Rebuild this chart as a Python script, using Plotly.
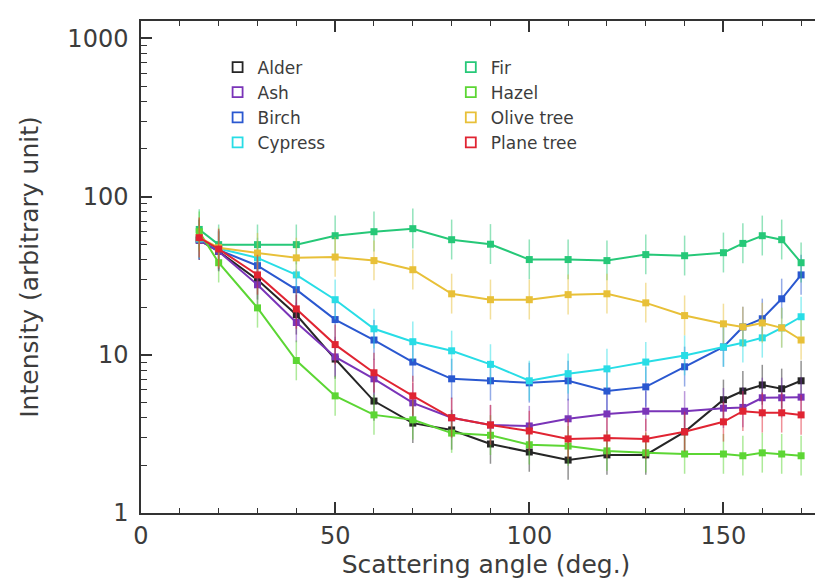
import plotly.graph_objects as go

angles = [15, 20, 30, 40, 50, 60, 70, 80, 90, 100, 110, 120, 130, 140, 150, 155, 160, 165, 170]

alder = [53, 45, 29.8, 17.9, 9.4, 5.1, 3.7, 3.35, 2.73, 2.43, 2.16, 2.33, 2.33, 3.26, 5.2, 5.9, 6.45, 6.1, 6.85]
ash = [53, 45, 27.7, 16.0, 9.7, 7.05, 4.97, 4.0, 3.6, 3.55, 3.94, 4.23, 4.4, 4.4, 4.6, 4.65, 5.35, 5.35, 5.4]
birch = [54, 46, 36.6, 25.8, 16.7, 12.4, 9.0, 7.05, 6.85, 6.65, 6.85, 5.9, 6.27, 8.4, 11.2, 15.0, 16.9, 22.6, 32.0]
cypress = [54, 47, 41, 32, 22.3, 14.6, 12.1, 10.6, 8.7, 6.85, 7.6, 8.15, 9.0, 9.9, 11.2, 11.9, 12.8, 14.8, 17.4]
fir = [62, 49.7, 49.7, 49.7, 56.6, 60, 62.7, 53.4, 50, 40, 40, 39.4, 43, 42.3, 44.2, 50.6, 56.6, 53.4, 38.2]
hazel = [60, 38.2, 19.8, 9.2, 5.5, 4.17, 3.88, 3.2, 3.1, 2.7, 2.65, 2.47, 2.4, 2.36, 2.36, 2.3, 2.4, 2.36, 2.3]
olive = [55, 47.5, 44, 41, 41.5, 39.4, 34.5, 24.3, 22.3, 22.3, 24, 24.3, 21.3, 17.7, 15.7, 15.0, 15.9, 14.8, 12.4]
plane = [55, 46.6, 32, 19.5, 11.6, 7.7, 5.5, 4.0, 3.6, 3.3, 2.94, 2.98, 2.94, 3.26, 3.77, 4.4, 4.3, 4.3, 4.17]

names = ["Alder", "Ash", "Birch", "Cypress", "Fir", "Hazel", "Olive tree", "Plane tree"]
series = [alder, ash, birch, cypress, fir, hazel, olive, plane]
colors = ["#262626", "#7a34b8", "#2a58d0", "#28dde6", "#26c878", "#5cd634", "#e8c038", "#e02432"]
err_up = 0.34
err_dn = 0.25

x_ticks = [0, 50, 100, 150]
y_ticks = [1, 10, 100, 1000]


def rgba(h, a):
    h = h.lstrip("#")
    return "rgba(%d,%d,%d,%s)" % (int(h[0:2], 16), int(h[2:4], 16), int(h[4:6], 16), a)


fig = go.Figure()
for name, vals, c in zip(names, series, colors):
    fig.add_trace(go.Scatter(
        x=angles, y=vals, mode="lines+markers", showlegend=False,
        line=dict(color=c, width=2),
        marker=dict(symbol="square", size=7, color=c),
        error_y=dict(type="data", array=[v * err_up for v in vals],
                     arrayminus=[v * err_dn for v in vals],
                     color=rgba(c, 0.5), thickness=1.5, width=0),
    ))

for i, (name, c) in enumerate(zip(names, colors)):
    fig.add_trace(go.Scatter(
        x=[None], y=[None], mode="markers", name=name,
        marker=dict(symbol="square-open", size=10, color=c, line=dict(width=1.8, color=c)),
        legend="legend" if i < 4 else "legend2",
    ))

FAM = "DejaVu Sans, sans-serif"
TXT = "#3c3c3c"
tickfont = dict(family=FAM, size=24, color=TXT)
leg_common = dict(bgcolor="rgba(0,0,0,0)", font=dict(family=FAM, size=17, color=TXT),
                  yanchor="top", xanchor="left", tracegroupgap=0, itemwidth=30)

fig.update_layout(
    width=823, height=586,
    margin=dict(l=133, r=0, t=13, b=81),
    paper_bgcolor="white", plot_bgcolor="white",
    font=dict(family=FAM, color=TXT),
    legend=dict(x=0.111, y=0.942, **leg_common),
    legend2=dict(x=0.449, y=0.942, **leg_common),
    xaxis=dict(
        range=[0, 177.7], tickvals=x_ticks, ticktext=[str(v) for v in x_ticks],
        ticks="inside", ticklen=11, tickwidth=1.5, tickcolor="#333",
        showline=True, linecolor="#333", linewidth=1.5, mirror="ticks",
        showgrid=False, zeroline=False, automargin=False,
        ticklabelstandoff=0,
        minor=dict(tickvals=[10, 20, 30, 40, 60, 70, 80, 90, 110, 120, 130, 140, 160, 170],
                   ticks="inside", ticklen=5, tickwidth=1.2, tickcolor="#333"),
        title=dict(text="Scattering angle (deg.)", font=dict(family=FAM, size=25, color=TXT), standoff=6),
        tickfont=tickfont,
    ),
    yaxis=dict(
        type="log", range=[0, 3.11], tickvals=y_ticks, ticktext=[str(v) for v in y_ticks],
        ticks="inside", ticklen=11, tickwidth=1.5, tickcolor="#333",
        showline=True, linecolor="#333", linewidth=1.5,
        showgrid=False, zeroline=False, automargin=False,
        ticklabelstandoff=6,
        minor=dict(tickvals=[m * d for d in (1, 10, 100, 1000) for m in range(2, 10)],
                   ticks="inside", ticklen=6, tickwidth=1.2, tickcolor="#333"),
        title=dict(text="Intensity (arbitrary unit)", font=dict(family=FAM, size=25, color=TXT), standoff=22),
        tickfont=tickfont,
    ),
)

fig.write_html("out.html")
